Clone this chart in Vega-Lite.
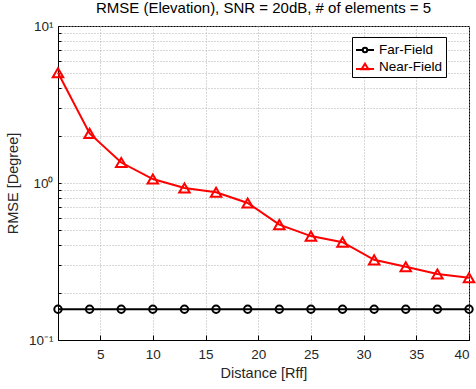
{
  "$schema": "https://vega.github.io/schema/vega-lite/v6.json",
  "width": 411,
  "height": 314,
  "autosize": "none",
  "padding": {"left": 58, "top": 26, "right": 7, "bottom": 49},
  "background": "white",
  "config": {
    "font": "Liberation Sans",
    "view": {"stroke": "black", "strokeWidth": 1},
    "axis": {
      "labelFont": "Liberation Sans",
      "titleFont": "Liberation Sans",
      "labelFontSize": 13.5,
      "titleFontSize": 14.5,
      "titleFontWeight": "normal",
      "labelColor": "#262626",
      "titleColor": "#262626",
      "domainColor": "black",
      "tickColor": "black",
      "gridColor": "#b0b0b0",
      "gridDash": [1, 2],
      "gridWidth": 1
    },
    "legend": {
      "orient": "none",
      "legendX": 294,
      "legendY": 11,
      "strokeColor": "black",
      "fillColor": "white",
      "padding": 3,
      "labelFontSize": 13.5,
      "labelFont": "Liberation Sans",
      "labelColor": "black",
      "labelOffset": 4,
      "symbolSize": 324,
      "symbolStrokeWidth": 2,
      "rowPadding": -1,
      "cornerRadius": 0
    }
  },
  "title": {
    "text": "RMSE (Elevation), SNR = 20dB, # of elements = 5",
    "fontSize": 15,
    "fontWeight": "normal",
    "font": "Liberation Sans",
    "color": "black",
    "offset": 3
  },
  "data": {
    "values": [
      {"x": 1, "rmse": 0.157, "series": "Far-Field"},
      {"x": 4, "rmse": 0.157, "series": "Far-Field"},
      {"x": 7, "rmse": 0.157, "series": "Far-Field"},
      {"x": 10, "rmse": 0.157, "series": "Far-Field"},
      {"x": 13, "rmse": 0.157, "series": "Far-Field"},
      {"x": 16, "rmse": 0.157, "series": "Far-Field"},
      {"x": 19, "rmse": 0.157, "series": "Far-Field"},
      {"x": 22, "rmse": 0.157, "series": "Far-Field"},
      {"x": 25, "rmse": 0.157, "series": "Far-Field"},
      {"x": 28, "rmse": 0.157, "series": "Far-Field"},
      {"x": 31, "rmse": 0.157, "series": "Far-Field"},
      {"x": 34, "rmse": 0.157, "series": "Far-Field"},
      {"x": 37, "rmse": 0.157, "series": "Far-Field"},
      {"x": 40, "rmse": 0.157, "series": "Far-Field"},
      {"x": 1, "rmse": 5.04, "series": "Near-Field"},
      {"x": 4, "rmse": 2.07, "series": "Near-Field"},
      {"x": 7, "rmse": 1.35, "series": "Near-Field"},
      {"x": 10, "rmse": 1.06, "series": "Near-Field"},
      {"x": 13, "rmse": 0.93, "series": "Near-Field"},
      {"x": 16, "rmse": 0.873, "series": "Near-Field"},
      {"x": 19, "rmse": 0.746, "series": "Near-Field"},
      {"x": 22, "rmse": 0.543, "series": "Near-Field"},
      {"x": 25, "rmse": 0.459, "series": "Near-Field"},
      {"x": 28, "rmse": 0.42, "series": "Near-Field"},
      {"x": 31, "rmse": 0.324, "series": "Near-Field"},
      {"x": 34, "rmse": 0.293, "series": "Near-Field"},
      {"x": 37, "rmse": 0.263, "series": "Near-Field"},
      {"x": 40, "rmse": 0.249, "series": "Near-Field"}
    ]
  },
  "resolve": {"scale": {"shape": "independent", "color": "independent"}, "legend": {"shape": "independent", "color": "independent"}},
  "layer": [
    {
      "mark": {"type": "line", "strokeWidth": 2},
      "encoding": {
        "x": {
          "field": "x",
          "type": "quantitative",
          "scale": {"domain": [1, 40], "nice": false, "zero": false},
          "axis": {
            "values": [5, 10, 15, 20, 25, 30, 35, 40],
            "title": "Distance [Rff]",
            "tickSize": -5,
            "labelPadding": 12,
            "titlePadding": 6
          }
        },
        "y": {
          "field": "rmse",
          "type": "quantitative",
          "scale": {"type": "log", "domain": [0.1, 10], "nice": false},
          "axis": {
            "values": [0.1, 0.2, 0.3, 0.4, 0.5, 0.6, 0.7, 0.8, 0.9, 1, 2, 3, 4, 5, 6, 7, 8, 9, 10],
            "labelExpr": "datum.value == 10 ? '10¹' : datum.value == 1 ? '10⁰' : abs(datum.value - 0.1) < 1e-9 ? '10⁻¹' : ''",
            "title": "RMSE [Degree]",
            "tickSize": -3,
            "labelPadding": 8,
            "titlePadding": 8
          }
        },
        "color": {
          "field": "series",
          "type": "nominal",
          "scale": {"domain": ["Far-Field", "Near-Field"], "range": ["black", "#ff0000"]},
          "legend": null
        }
      }
    },
    {
      "mark": {"type": "point", "filled": false, "strokeWidth": 2, "opacity": 1},
      "encoding": {
        "x": {"field": "x", "type": "quantitative"},
        "y": {"field": "rmse", "type": "quantitative"},
        "color": {
          "field": "series",
          "type": "nominal",
          "scale": {"domain": ["Far-Field", "Near-Field"], "range": ["black", "#ff0000"]},
          "legend": null
        },
        "shape": {
          "field": "series",
          "type": "nominal",
          "scale": {"domain": ["Far-Field", "Near-Field"], "range": ["circle", "triangle-up"]},
          "legend": null
        },
        "size": {
          "field": "series",
          "type": "nominal",
          "scale": {"domain": ["Far-Field", "Near-Field"], "range": [55, 110]},
          "legend": null
        }
      }
    },
    {
      "transform": [{"filter": "datum.x < 0"}],
      "mark": {"type": "point", "filled": false, "strokeWidth": 2, "opacity": 1},
      "encoding": {
        "x": {"field": "x", "type": "quantitative"},
        "y": {"field": "rmse", "type": "quantitative"},
        "color": {
          "field": "series",
          "type": "nominal",
          "scale": {"domain": ["Far-Field", "Near-Field"], "range": ["black", "#ff0000"]},
          "legend": {"title": null}
        },
        "shape": {
          "field": "series",
          "type": "nominal",
          "scale": {
            "domain": ["Far-Field", "Near-Field"],
            "range": [
              "M-1,0L-0.25,0M0.25,0L1,0M0.25,0A0.25,0.25 0 1,1 -0.25,0A0.25,0.25 0 1,1 0.25,0",
              "M-1,0.22L1,0.22M0,-0.36L0.38,0.25L-0.38,0.25Z"
            ]
          },
          "legend": {"title": null}
        }
      }
    }
  ]
}
